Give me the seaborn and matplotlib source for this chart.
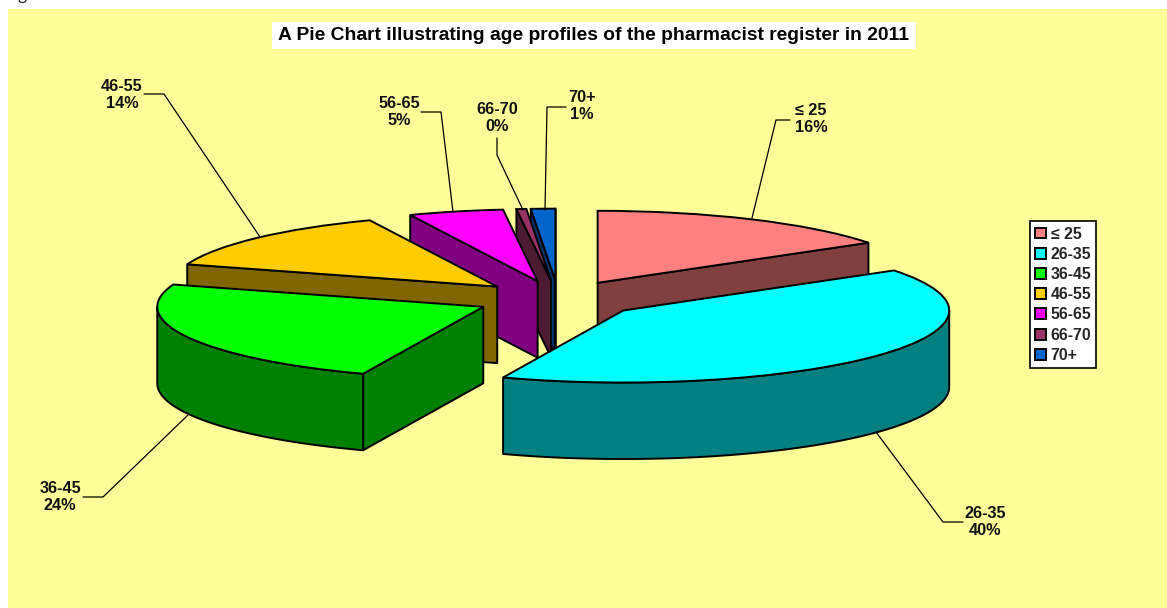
import numpy as np
import matplotlib
matplotlib.use("Agg")
import matplotlib.pyplot as plt
import seaborn as sns
from matplotlib.patches import Rectangle

age_groups = ["≤ 25", "26-35", "36-45", "46-55", "56-65", "66-70", "70+"]
shares = [15.6, 40.4, 24.0, 13.6, 4.7, 0.49, 1.2]
top_colors = ["#FF8080", "#00FFFF", "#00FF00", "#FFCC00", "#FF00FF", "#993366", "#0066CC"]
title = "A Pie Chart illustrating age profiles of the pharmacist register in 2011"

W, H = 1167, 608
RX, RY = 326.0, 72.0      # pie radius on screen, px
CX, CY = 558.5, 299.0     # pie centre, px
DEPTH = 76.5 / RY         # extrusion height in y data units
EXPLODE = 0.255
FONT = ["Liberation Sans", "DejaVu Sans"]

sns.set_theme(style="white")
plt.rcParams["font.family"] = FONT
plt.rcParams["font.weight"] = "bold"
palette = sns.color_palette(top_colors)
side_colors = [tuple(c * 0.5 for c in col) for col in palette]

fig = plt.figure(figsize=(W / 100, H / 100), dpi=100, facecolor="white")
fig.add_artist(Rectangle((8 / W, 0), 1 - 8 / W, 1 - 9 / H, transform=fig.transFigure,
                         facecolor="#FFFF99", edgecolor="none", zorder=0))

ax = fig.add_axes([0, 0, 1, 1], zorder=2)
ax.patch.set_alpha(0)
wedges, _ = ax.pie(shares, explode=[EXPLODE] * len(shares), colors=palette, startangle=90,
                   counterclock=False, radius=1,
                   wedgeprops={"edgecolor": "black", "linewidth": 1.4})
ax.set_aspect("auto")
ax.set_xlim(-CX / RX, (W - CX) / RX)
ax.set_ylim((CY - H) / RY, CY / RY)
ax.axis("off")


def side_face(xs, ys, color, z):
    # closes the top edge down to the same edge shifted by the pie depth
    xs = np.asarray(xs)
    ys = np.asarray(ys)
    ax.fill(np.r_[xs, xs[::-1]], np.r_[ys, ys[::-1] - DEPTH], facecolor=color,
            edgecolor="black", linewidth=1.4, zorder=z, joinstyle="round")


# back to front: pink, then the small slices, then round to cyan
draw_order = [0, 6, 5, 4, 3, 2, 1]
for rank, i in enumerate(draw_order):
    w = wedges[i]
    z = 10 + rank * 5
    cx, cy = w.center
    t1, t2 = np.radians(w.theta1), np.radians(w.theta2)
    # pie runs clockwise, so theta2 is where the slice starts
    if np.cos(t2) < 0:
        side_face([cx, cx + np.cos(t2)], [cy, cy + np.sin(t2)], side_colors[i], z)
    if np.cos(t1) > 0:
        side_face([cx, cx + np.cos(t1)], [cy, cy + np.sin(t1)], side_colors[i], z)
    angles = np.linspace(t1, t2, 400)
    angles = angles[np.sin(angles) < 0]
    if len(angles):
        side_face(cx + np.cos(angles), cy + np.sin(angles), side_colors[i], z + 1)
    w.set_zorder(z + 2)

# overlay in pixel coordinates for the title, callouts and legend
over = fig.add_axes([0, 0, 1, 1], zorder=3)
over.patch.set_alpha(0)
over.set_xlim(0, W)
over.set_ylim(H, 0)
over.axis("off")

over.text(7, -1, "Figure", fontsize=11.5, fontweight="normal", family="Open Sans",
          color="#222222", va="baseline")
over.add_patch(Rectangle((272, 22), 644, 27, facecolor="white", edgecolor="none"))
over.text(594, 35.5, title, ha="center", va="center", fontsize=13.9, color="black")

callouts = [
    ((752, 218), (776, 120), (790, 120), (811, 119)),
    ((876, 432), (943, 522), (963, 522), (985, 522)),
    ((188, 415), (103, 497), (83, 497), (60, 497)),
    ((260, 237), (164, 94), (144, 94), (122, 95)),
    ((453, 212), (441, 112), (421, 112), (399, 112)),
    ((523, 210), (497, 155), (497, 138), (497, 118)),
    ((545, 210), (547, 107), (566, 107), (582, 106)),
]
for name, share, (a, b, c, lab) in zip(age_groups, shares, callouts):
    over.plot([a[0], b[0], c[0]], [a[1], b[1], c[1]], color="black", linewidth=0.9)
    over.text(lab[0], lab[1], f"{name}\n{round(share)}%", ha="center", va="center",
              fontsize=11.7, color="#111111", linespacing=1.22)

leg = over.legend(wedges, age_groups, loc="upper left",
                  bbox_to_anchor=(1030 / W, 1 - 221.5 / H), bbox_transform=fig.transFigure,
                  fancybox=False, framealpha=1, facecolor="white", edgecolor="black",
                  fontsize=11.4, handlelength=0.68, handleheight=0.68, handletextpad=0.3,
                  labelspacing=0.33, borderpad=0.32, borderaxespad=0)
leg.get_frame().set_linewidth(1.2)

fig.savefig("out.png", dpi=100)
plt.close(fig)
